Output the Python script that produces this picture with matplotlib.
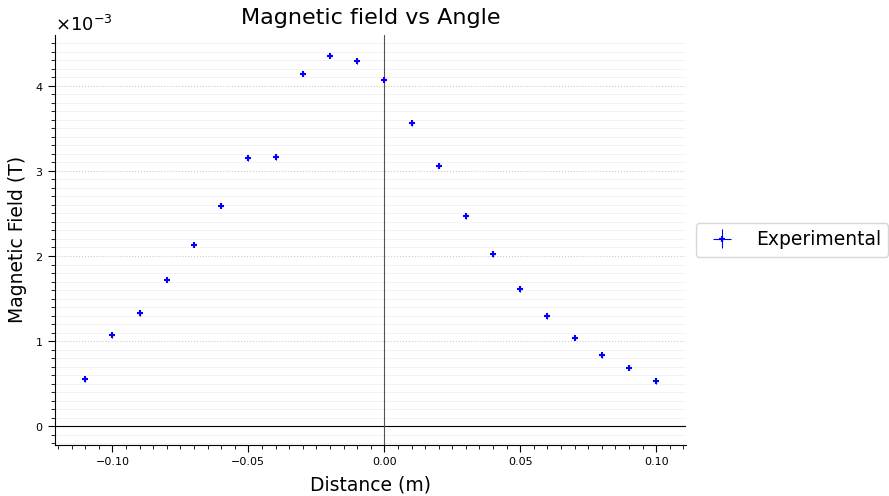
import numpy as np
import matplotlib
matplotlib.use("Agg")
import matplotlib.pyplot as plt
from matplotlib.ticker import AutoMinorLocator

# Measured data (distance in m, field in T)
distance = [-0.11, -0.10, -0.09, -0.08, -0.07, -0.06, -0.05, -0.04, -0.03, -0.02, -0.01,
            0.00, 0.01, 0.02, 0.03, 0.04, 0.05, 0.06, 0.07, 0.08, 0.09, 0.10]
field = [0.553e-3, 1.07e-3, 1.33e-3, 1.72e-3, 2.13e-3, 2.59e-3, 3.15e-3, 3.16e-3, 4.14e-3,
         4.35e-3, 4.29e-3, 4.07e-3, 3.56e-3, 3.06e-3, 2.47e-3, 2.02e-3, 1.61e-3, 1.29e-3,
         1.04e-3, 0.835e-3, 0.69e-3, 0.53e-3]
x_err = 0.0005
y_err = 0.03e-3

fig, ax = plt.subplots(figsize=(8.89, 4.96), dpi=100)
ax.errorbar(distance, field, xerr=x_err, yerr=y_err, fmt='b+', ecolor='b',
            elinewidth=0.8, markersize=5, markeredgewidth=1.5, label='Experimental')
ax.axhline(0, color='black', linewidth=0.8)
ax.axvline(0, color='#555555', linewidth=0.8)

ax.set_title('Magnetic field vs Angle', fontsize=16, pad=8)
ax.set_xlabel('Distance (m)', fontsize=13.5, labelpad=6)
ax.set_ylabel('Magnetic Field (T)', fontsize=13.5, labelpad=6)
ax.ticklabel_format(axis='y', style='sci', scilimits=(0, 0), useMathText=True)
ax.yaxis.get_offset_text().set_fontsize(13)
ax.tick_params(labelsize=8)
ax.tick_params(which='major', length=5)
ax.tick_params(which='minor', length=3)

ax.xaxis.set_minor_locator(AutoMinorLocator(10))
ax.yaxis.set_minor_locator(AutoMinorLocator(10))
ax.grid(axis='y', which='major', linestyle=':', color='#cccccc', linewidth=0.8)
ax.grid(axis='y', which='minor', linestyle='-', color='#eeeeee', linewidth=0.5)

ax.spines['top'].set_visible(False)
ax.spines['right'].set_visible(False)

ax.legend(loc='center left', bbox_to_anchor=(1.0, 0.5), fontsize=13.5)
fig.subplots_adjust(left=0.062, right=0.772, top=0.93, bottom=0.103)
fig.savefig('out.png', dpi=100)
